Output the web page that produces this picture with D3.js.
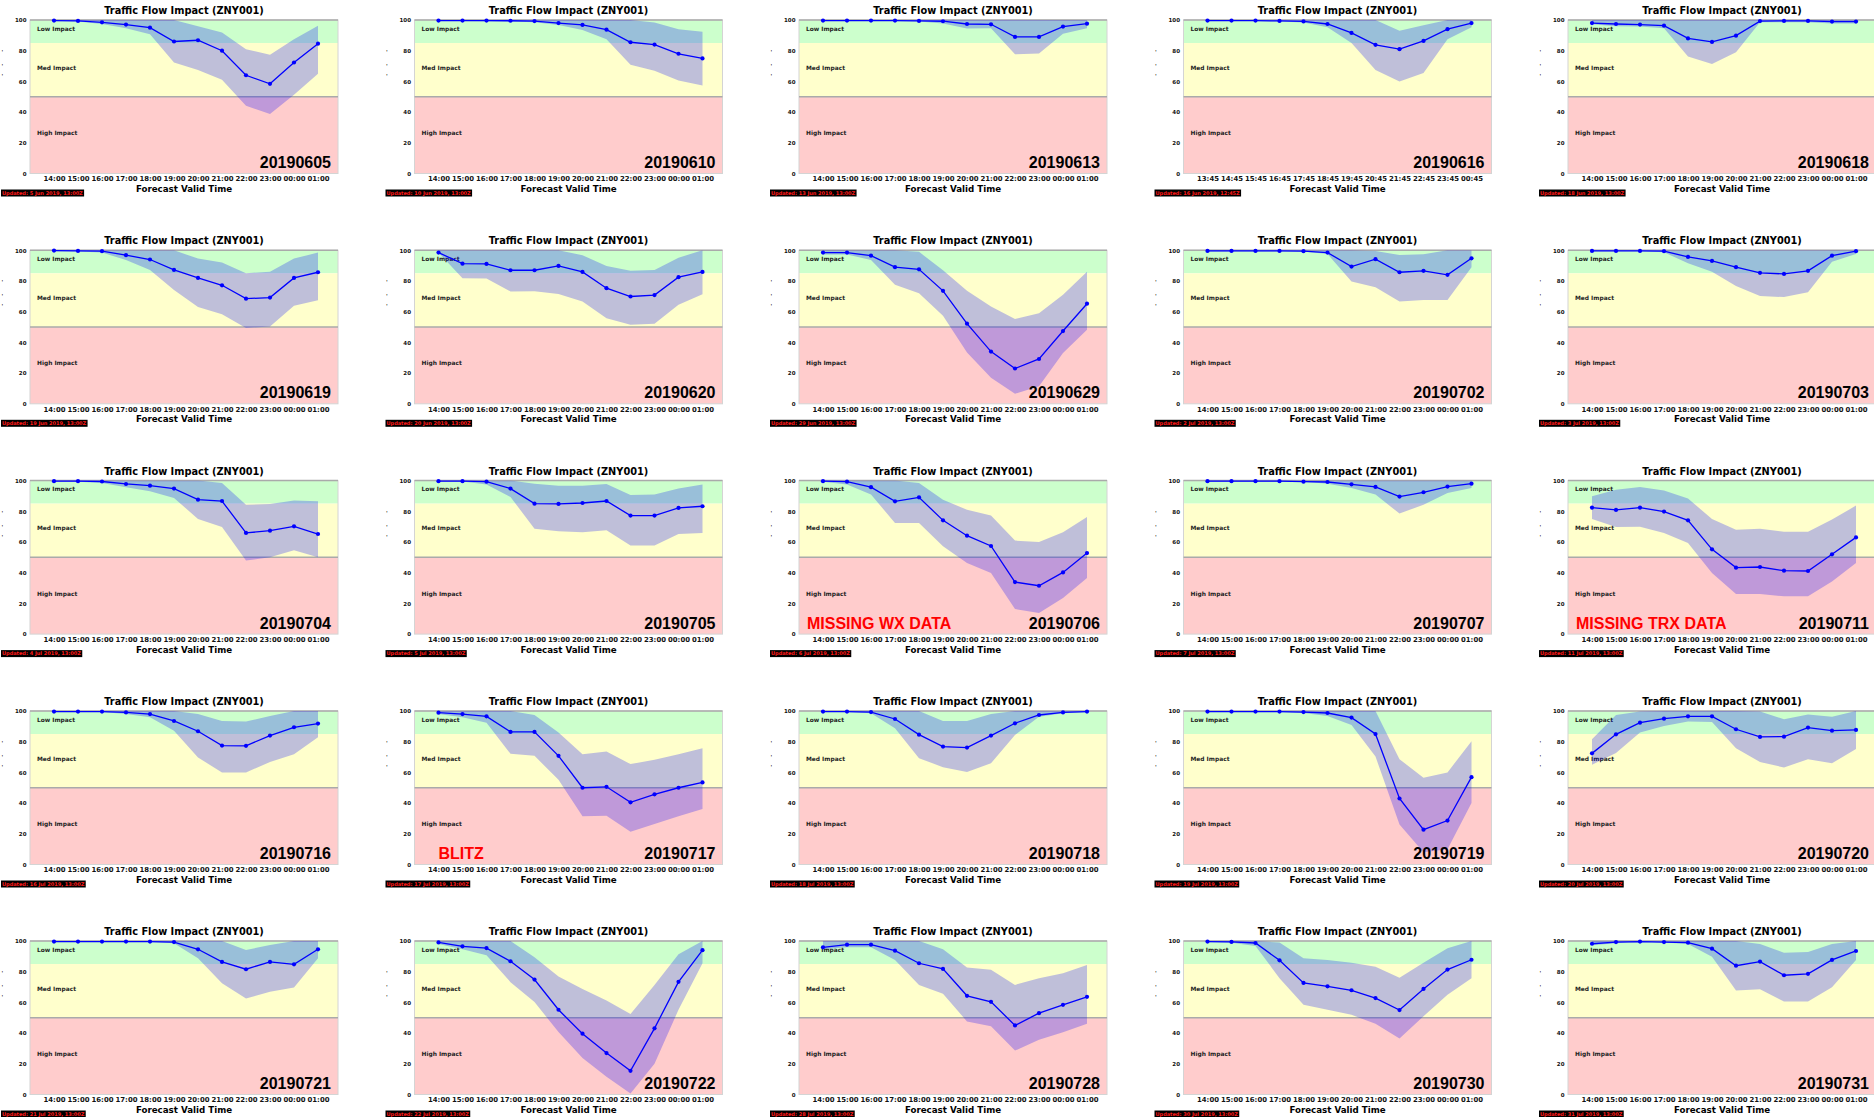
<!DOCTYPE html>
<meta charset="utf-8">
<head>
<style>
body { margin: 0; background: #fff; }
text { font-family: "DejaVu Sans", sans-serif; }
.big { font-family: "Liberation Sans", Arial, sans-serif; font-weight: bold; font-size: 16px; }
</style>
</head>
<body>
<script src="https://cdnjs.cloudflare.com/ajax/libs/d3/7.8.5/d3.min.js"></script>
<script>

// forecast valid times
const hoursA = ["14:00","15:00","16:00","17:00","18:00","19:00","20:00","21:00","22:00","23:00","00:00","01:00"];
const hoursB = ["13:45","14:45","15:45","16:45","17:45","18:45","19:45","20:45","21:45","22:45","23:45","00:45"];
const yTicks = [0, 20, 40, 60, 80, 100];

const dates = ["20190605","20190610","20190613","20190616","20190618",
  "20190619","20190620","20190629","20190702","20190703",
  "20190704","20190705","20190706","20190707","20190711",
  "20190716","20190717","20190718","20190719","20190720",
  "20190721","20190722","20190728","20190730","20190731"];

const updated = ["5 Jun 2019, 13:00Z","10 Jun 2019, 13:00Z","13 Jun 2019, 13:00Z","16 Jun 2019, 12:45Z","18 Jun 2019, 13:00Z",
  "19 Jun 2019, 13:00Z","20 Jun 2019, 13:00Z","29 Jun 2019, 13:00Z","2 Jul 2019, 13:00Z","3 Jul 2019, 13:00Z",
  "4 Jul 2019, 13:00Z","5 Jul 2019, 13:00Z","6 Jul 2019, 13:00Z","7 Jul 2019, 13:00Z","11 Jul 2019, 13:00Z",
  "16 Jul 2019, 13:00Z","17 Jul 2019, 13:00Z","18 Jul 2019, 13:00Z","19 Jul 2019, 13:00Z","20 Jul 2019, 13:00Z",
  "21 Jul 2019, 13:00Z","22 Jul 2019, 13:00Z","28 Jul 2019, 13:00Z","30 Jul 2019, 13:00Z","31 Jul 2019, 13:00Z"];

// red notes: panel index -> text
const notes = {12: "MISSING WX DATA", 14: "MISSING TRX DATA", 16: "BLITZ"};

const meanVals = [
  [99.6,99.4,98.5,97,95,86,86.8,80,64,58.4,72.3,84.6],
  [99.6,99.6,99.6,99.5,99.3,98,96.8,93.7,85.5,84,78,75],
  [99.6,99.6,99.6,99.6,99.4,99.2,97.4,97.2,89,89,95.7,97.6],
  [99.6,99.6,99.6,99.4,99.1,97.4,91.6,83.8,81,86.4,94,98],
  [98,97.4,97,96.3,88,85.7,89.8,99.3,99.4,99.4,99,99],
  [99.8,99.6,99.4,96.8,94,87.2,82,77.2,68.5,69.2,82,85.7],
  [98.5,91.3,91.1,87,87,89.8,85.9,75.3,69.9,70.8,82.5,85.9],
  [98.5,98.5,96.5,89,87.6,73.6,52.2,34,23,29.2,47.4,65.2],
  [99.6,99.6,99.6,99.6,99.4,98.5,89.4,94.2,85.7,86.6,84,94.8],
  [99.6,99.6,99.6,99.4,95.7,93.1,89,85.3,84.6,86.6,96.5,99.4],
  [99.6,99.6,99.4,97.8,96.7,94.8,87.6,86.7,65.9,67.4,70.2,65.2],
  [99.6,99.6,99.3,94.8,85,84.8,85.4,86.7,77.2,77.2,82.2,83.3],
  [99.6,99.3,95.7,86.5,89.1,74.1,64.1,57.4,33.9,31.5,40.2,52.8],
  [99.6,99.6,99.6,99.6,99.3,99.1,97.6,95.9,89.6,92.4,96.1,98],
  [82.4,80.9,82.4,79.8,74.1,55.2,43.3,43.7,41.3,41.1,52,63],
  [99.6,99.6,99.6,99.1,98,93.5,86.8,77.5,77.3,84,89.4,91.8],
  [98.9,98,96.5,86.4,86.4,70.8,50,50.6,40.5,45.7,50,53.5],
  [99.6,99.6,99.3,94.8,84.6,76.8,76.2,84,92,97.4,99.1,99.6],
  [99.6,99.6,99.6,99.6,99.3,98.7,95.7,85,43,22.7,28.6,56.9],
  [72.4,84.8,92.4,95,96.5,96.5,88.1,83.1,83.3,89.2,87.2,87.7],
  [99.6,99.6,99.6,99.6,99.6,99.3,94.6,86.4,81.6,86.4,84.8,94.6],
  [99.1,96.5,95.4,86.8,74.9,55.2,39.6,27,15.4,43.1,73.4,94],
  [95.9,97.6,97.6,93.7,85.5,81.8,64.3,60.4,45,53,58.4,63.6],
  [99.6,99.4,98.7,87.4,72.7,70.5,67.9,62.8,55,68.8,81.4,87.8],
  [98.2,99.3,99.6,99.3,98.9,95,83.9,86.6,77.7,78.6,87.7,93.5]
];

const lowVals = [
  [99.5,99,97.4,94.6,90.7,72.3,67.5,61,44.2,38.7,51.3,65],
  [99.5,99.3,99.2,99,98.5,96.8,93.5,87.4,70.8,66.9,60.6,57.4],
  [99.3,99.3,99.3,99.3,99,97.8,94.4,94.6,77.7,78.1,91,94.6],
  [99.4,99.4,99.3,99,98.3,95.2,85,67.5,60,65.4,87.4,95.2],
  [97.2,96,95.7,94.6,76.2,71.4,79,98.5,98.5,98.5,97.8,97.8],
  [99.5,99.3,98.5,93.7,87.2,74.2,63,58.4,49.4,50.4,63.9,67.5],
  [98.5,81.8,81.6,73.2,73.4,71.6,66.7,55.8,51.5,52.2,64.5,71.4],
  [97.2,97.2,93.7,77.5,72,57.4,33.5,16.9,6.5,11.5,33.1,48.3],
  [99.3,99.3,99.3,99.3,99.2,97.6,79.7,76,66.7,67.7,67.7,88.9],
  [99.4,99.4,99.4,98.7,91.6,86.1,76.8,70.3,69.5,72.7,92.6,97.6],
  [99.4,99.3,98.5,95.7,93,88.7,75,69.8,48,50,54.6,50],
  [99.4,99.4,97.4,89.3,68.7,67,66.3,67.6,57.8,57.8,65.2,65.9],
  [99.3,97.4,90.9,72.4,72.4,57.2,46.3,39.8,16.3,13.7,23.5,36.5],
  [99.3,99.3,99.3,99.3,99.3,98,95.2,90.9,78.5,84.3,92,95.2],
  [75,69.8,70,65.9,59.3,39.8,26.1,26.1,24.6,24.6,34.3,46.3],
  [99.3,99.3,99.3,98,95.9,87.2,69.7,60,60,66.7,71.9,82.9],
  [98,95.9,92.4,72.1,70.8,55.2,31.4,31.8,21.4,26.4,31.4,36.1],
  [99.3,99.3,98.5,88.7,69.3,63.4,60.2,66,84.4,96.3,98.5,99.3],
  [99.3,99.3,99.3,99.3,98.7,96.8,90.9,70.3,26,8,10,40],
  [65,72.6,86,90.3,93.1,92.9,75.8,66.7,63.2,68.6,66,75.3],
  [99.3,99.3,99.3,99.3,99.3,98.5,88.7,72.5,62.5,67,69.7,88.7],
  [98,94.6,90.7,73.2,60.2,40.7,23.8,11.5,0.6,20.1,55.2,85.5],
  [94.6,96,96,87.7,71.4,65.6,47.6,44.4,28.6,35.7,40.5,46.1],
  [99.3,98.9,96.8,75.8,58.4,55.2,51.9,46.1,36.5,50.9,65,75.8],
  [97.2,98.5,99.3,99.1,98,89.8,67.7,68.6,60.6,60.6,69.9,87.6]
];

const highVals = [
  [100,100,100,100,100,100,96,91.8,81,77.3,87.4,96.3],
  [100,100,100,100,100,100,100,100,100,98.3,94,92.4],
  [100,100,100,100,100,100,100,100,100,100,100,100],
  [100,100,100,100,100,100,100,100,93,96.5,100,100],
  [100,100,100,100,100,100,100,100,100,100,100,100],
  [100,100,100,100,100,100,94.6,92,85,86.1,94.6,98.5],
  [100,100,100,100,100,100,96.8,89.8,86.6,87.2,95.2,100],
  [100,100,100,100,99,87,73.6,63.4,55.2,59,71,86.1],
  [100,100,100,100,100,100,100,99.5,97,97.5,100,100],
  [100,100,100,100,100,100,100,100,100,100,100,100],
  [100,100,100,100,100,100,100,98.5,84.3,84.8,87,86.5],
  [100,100,100,100,98,96.7,96.7,97.8,90.6,90.9,94.8,97.4],
  [100,100,100,100,98.5,87.6,81,77.2,60.9,60,66.3,76.3],
  [100,100,100,100,100,100,100,100,100,100,100,100],
  [89.8,94.1,95.9,93.5,88.3,75,68,68.7,66.7,66.7,74.6,83.7],
  [100,100,100,100,100,100,98,93.5,93.1,96.8,100,100],
  [100,100,100,100,97.4,86,71.9,73.6,65.4,68.2,71.9,75.8],
  [100,100,100,100,100,93.5,93.5,98,100,100,100,100],
  [100,100,100,100,100,100,100,100,68.6,56.5,60,80.3],
  [81.6,97.4,99.6,100,100,100,100,99.6,94.6,97.8,96.3,100],
  [100,100,100,100,100,100,100,100,94.1,97.4,100,100],
  [100,100,100,100,89.4,76.8,68.8,61.3,52.4,71.4,91.3,100],
  [100,100,100,100,100,94.6,82.7,81.2,71.4,75.8,79,84.4],
  [100,100,100,99,88.7,87.6,85.8,83.3,76.1,85.8,95.2,100],
  [100,100,100,100,100,100,100,98,92.4,92.8,98,100]
];

const zones = [
  {lo: 85, hi: 100, color: "#ccffcc", label: "Low Impact", at: 93},
  {lo: 50, hi: 85, color: "#ffffcc", label: "Med Impact", at: 67.5},
  {lo: 0, hi: 50, color: "#ffcccc", label: "High Impact", at: 25}
];

const width = 1874, height = 1117;
const colX = [0, 384.5, 769, 1153.5, 1538];
const rowY = [0, 230.3, 460.6, 691, 921];
const plot = {left: 30, right: 338, top: 20, bottom: 173.5};

const svg = d3.select("body").append("svg")
  .attr("width", width)
  .attr("height", height);

svg.append("rect").attr("width", width).attr("height", height).attr("fill", "#fff");

const y = d3.scaleLinear().domain([0, 100]).range([plot.bottom, plot.top]);

dates.forEach((date, i) => {
  const g = svg.append("g")
    .attr("transform", "translate(" + colX[i % 5] + "," + rowY[Math.floor(i / 5)] + ")");
  const hours = i === 3 ? hoursB : hoursA;
  const x = d3.scalePoint().domain(hours).range([54, 318]);

  const clipId = "clip" + i;
  g.append("clipPath").attr("id", clipId)
    .append("rect")
      .attr("x", plot.left).attr("y", plot.top)
      .attr("width", plot.right - plot.left).attr("height", plot.bottom - plot.top);

  // impact zones
  g.selectAll("rect.zone").data(zones).join("rect")
    .attr("class", "zone")
    .attr("x", plot.left)
    .attr("width", plot.right - plot.left)
    .attr("y", d => y(d.hi))
    .attr("height", d => y(d.lo) - y(d.hi))
    .attr("fill", d => d.color);

  g.append("rect")
    .attr("x", plot.left).attr("y", plot.top)
    .attr("width", plot.right - plot.left).attr("height", plot.bottom - plot.top)
    .attr("fill", "none").attr("stroke", "#d4d4d4").attr("stroke-width", 1);

  [100, 50].forEach(v => {
    g.append("line")
      .attr("x1", plot.left).attr("x2", plot.right)
      .attr("y1", y(v)).attr("y2", y(v))
      .attr("stroke", "#aaa").attr("stroke-width", 1.5);
  });

  g.selectAll("text.zone").data(zones).join("text")
    .attr("class", "zone")
    .attr("x", 37)
    .attr("y", d => y(d.at))
    .attr("font-size", 5.9)
    .attr("font-weight", "bold")
    .attr("fill", "#222")
    .text(d => d.label);

  // uncertainty band
  const rows = hours.map((h, j) => ({h, m: meanVals[i][j], lo: lowVals[i][j], hi: highVals[i][j]}));
  g.append("path")
    .datum(rows)
    .attr("clip-path", "url(#" + clipId + ")")
    .attr("fill", "rgba(0,0,255,0.25)")
    .attr("d", d3.area().x(d => x(d.h)).y0(d => y(d.lo)).y1(d => y(d.hi)));

  g.append("path")
    .datum(rows)
    .attr("fill", "none")
    .attr("stroke", "#0000ff")
    .attr("stroke-width", 1.3)
    .attr("d", d3.line().x(d => x(d.h)).y(d => y(d.m)));

  g.selectAll("circle").data(rows).join("circle")
    .attr("cx", d => x(d.h))
    .attr("cy", d => y(d.m))
    .attr("r", 2.1)
    .attr("fill", "#0000ff");

  // axes
  const yAxis = g.append("g")
    .attr("transform", "translate(" + plot.left + ",0)")
    .call(d3.axisLeft(y).tickValues(yTicks).tickSize(0).tickPadding(3.5));
  yAxis.select(".domain").remove();
  yAxis.selectAll("text")
    .attr("font-family", "DejaVu Sans")
    .attr("font-size", 5.5)
    .attr("font-weight", "bold")
    .attr("fill", "#111");

  const xAxis = g.append("g")
    .attr("transform", "translate(0," + plot.bottom + ")")
    .call(d3.axisBottom(x).tickSize(0).tickPadding(3));
  xAxis.select(".domain").remove();
  xAxis.selectAll("text")
    .attr("font-family", "DejaVu Sans")
    .attr("font-size", 6.9)
    .attr("font-weight", "bold")
    .attr("fill", "#111");

  g.append("text")
    .attr("x", (plot.left + plot.right) / 2).attr("y", 14)
    .attr("text-anchor", "middle")
    .attr("font-size", 9.8).attr("font-weight", "bold")
    .text("Traffic Flow Impact (ZNY001)");

  g.append("text")
    .attr("x", (plot.left + plot.right) / 2).attr("y", 192)
    .attr("text-anchor", "middle")
    .attr("font-size", 8.7).attr("font-weight", "bold")
    .text("Forecast Valid Time");

  // cropped y label remnants
  [52, 66, 76].forEach(t => {
    g.append("text").attr("x", 1.5).attr("y", t + 2)
      .attr("font-size", 5.5).attr("font-weight", "bold").attr("fill", "#222").text("'");
  });

  g.append("text")
    .attr("class", "big")
    .attr("x", 331).attr("y", 168)
    .attr("text-anchor", "end")
    .text(date);

  if (notes[i]) {
    g.append("text")
      .attr("class", "big")
      .attr("x", notes[i] === "BLITZ" ? 54 : 38).attr("y", 168)
      .attr("fill", "#ff0000")
      .text(notes[i]);
  }

  // updated stamp
  const stamp = g.append("g").attr("transform", "translate(1,189.5)");
  const st = stamp.append("text")
    .attr("x", 1).attr("y", 5.3)
    .attr("font-size", 5)
    .attr("font-weight", "bold")
    .attr("fill", "#ff1a1a")
    .text("Updated: " + updated[i]);
  const bb = st.node().getBBox();
  stamp.insert("rect", "text")
    .attr("x", 0).attr("y", 0)
    .attr("width", bb.width + 2).attr("height", 7)
    .attr("fill", "#000");
});

</script>
</body>
